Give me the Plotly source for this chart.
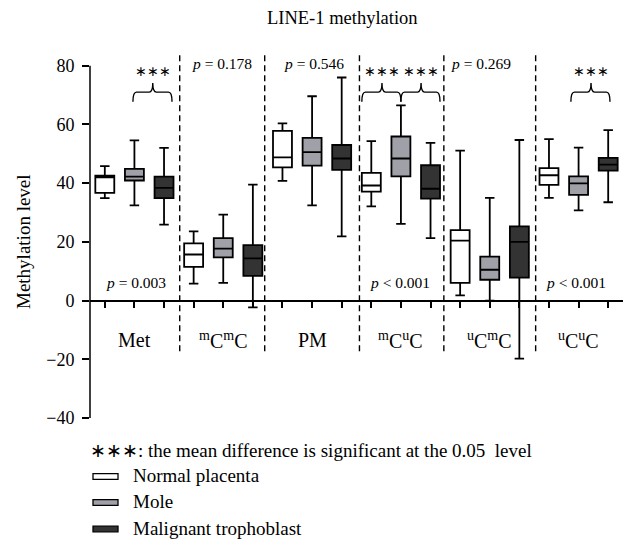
import plotly.graph_objects as go

# ---------------- data ----------------
categories = ["Met", "<sup>m</sup>C<sup>m</sup>C", "PM",
              "<sup>m</sup>C<sup>u</sup>C", "<sup>u</sup>C<sup>m</sup>C",
              "<sup>u</sup>C<sup>u</sup>C"]
groups = ["Normal placenta", "Mole", "Malignant trophoblast"]

normal_low = [34.9, 5.8, 40.8, 32.1, 1.8, 35.0]
normal_q1 = [36.7, 11.5, 45.4, 37.1, 6.0, 39.4]
normal_med = [42.0, 15.7, 48.8, 39.2, 20.4, 42.7]
normal_q3 = [42.6, 19.5, 57.8, 43.5, 24.0, 45.1]
normal_high = [45.8, 23.6, 60.4, 54.3, 51.1, 55.0]

mole_low = [32.4, 6.0, 32.4, 26.1, 0.0, 30.7]
mole_q1 = [40.9, 14.7, 46.0, 42.3, 7.1, 36.0]
mole_med = [42.2, 17.7, 50.6, 48.4, 10.5, 39.9]
mole_q3 = [44.9, 21.3, 55.4, 55.9, 15.0, 42.3]
mole_high = [54.6, 29.3, 69.6, 66.5, 35.0, 52.1]

mal_low = [25.9, -2.3, 21.9, 21.3, -19.8, 33.5]
mal_q1 = [34.9, 8.4, 44.5, 34.7, 7.8, 44.3]
mal_med = [38.4, 14.4, 48.4, 38.1, 20.0, 46.3]
mal_q3 = [42.2, 18.9, 53.0, 46.1, 25.3, 48.6]
mal_high = [52.0, 39.5, 76.0, 53.7, 54.7, 58.1]

p_top = ["", "<i>p</i> = 0.178", "<i>p</i> = 0.546", "", "<i>p</i> = 0.269", ""]
p_bottom = ["<i>p</i> = 0.003", "", "", "<i>p</i> &lt; 0.001", "", "<i>p</i> &lt; 0.001"]
p_top_x = [None, 3.95, 7.06, None, 12.7, None]
p_bottom_x = [1.05, None, None, 9.97, None, 15.9]

# significance braces: (start, end, tip) in box-slot units
braces = [(0.95, 2.27, 1.62), (8.68, 10.0, 9.36), (10.0, 11.32, 10.68), (15.74, 17.06, 16.42)]
dividers = [2.53, 5.4, 8.6, 11.45, 14.55]

yticks = [-40, -20, 0, 20, 40, 60, 80]

# ---------------- style ----------------
FONT = "Liberation Serif"
fills = ["#ffffff", "#a0a0a8", "#333333"]
W, H = 627, 542
ML, MR, MT, MB = 90, 4, 54, 124
YMIN, YMAX = -40, 84


def pxx(px):
    return (px - ML) / (W - ML - MR)


def pxy(py):
    return (H - MB - py) / (H - MT - MB)


stats = [
    (normal_low, normal_q1, normal_med, normal_q3, normal_high),
    (mole_low, mole_q1, mole_med, mole_q3, mole_high),
    (mal_low, mal_q1, mal_med, mal_q3, mal_high),
]

fig = go.Figure()
ncat = len(categories)
for g, (lo, q1, md, q3, hi) in enumerate(stats):
    xs = [3 * c + g for c in range(ncat)]
    fig.add_trace(go.Box(
        x=xs, q1=q1, median=md, q3=q3, lowerfence=lo, upperfence=hi,
        name=groups[g], fillcolor=fills[g],
        line=dict(color="black", width=1.8),
        width=0.64, whiskerwidth=0.5, boxpoints=False,
        showlegend=False, hoverinfo="skip",
    ))

shapes = []
# y axis line (only from -40 to 80)
shapes.append(dict(type="line", xref="paper", yref="y", x0=0, x1=0, y0=-40, y1=80,
                   line=dict(color="black", width=1.5)))
# dashed dividers
for d in dividers:
    shapes.append(dict(type="line", xref="x", yref="y", x0=d, x1=d, y0=-17.3, y1=83.6,
                       line=dict(color="black", width=1.4, dash="6px,4px")))


def ann(x, y, text, size, xref="x", yref="y", xanchor="center", **kw):
    return dict(x=x, y=y, xref=xref, yref=yref, text=text, showarrow=False,
                xanchor=xanchor, yanchor="middle",
                font=dict(family=FONT, size=size, color="black"), **kw)


# braces
yH, yE, yT = 71.0, 67.7, 74.1
annotations = []
for (a, b, t) in braces:
    dx = 0.12
    path = (f"M {a},{yE} Q {a},{yH} {a+dx},{yH} L {t-dx},{yH} Q {t},{yH} {t},{yT} "
            f"Q {t},{yH} {t+dx},{yH} L {b-dx},{yH} Q {b},{yH} {b},{yE}")
    shapes.append(dict(type="path", xref="x", yref="y", path=path,
                       line=dict(color="black", width=1.4)))
    annotations.append(ann(t, 77.9, "∗∗∗", 14))

# p-values
for c in range(ncat):
    if p_top[c]:
        annotations.append(ann(p_top_x[c], 80.8, p_top[c], 15.5))
    if p_bottom[c]:
        annotations.append(ann(p_bottom_x[c], 6.0, p_bottom[c], 15.5))

# category labels
for c in range(ncat):
    annotations.append(ann(3 * c + 1, -13.4, categories[c], 20))

# title and y title
annotations.append(ann(pxx(342), pxy(18), "LINE-1 methylation", 18.5, xref="paper", yref="paper"))
annotations.append(ann(pxx(24), pxy(242), "Methylation level", 19, xref="paper", yref="paper",
                       textangle=-90))

# legend
annotations.append(ann(pxx(88), pxy(451),
                       "∗∗∗: the mean difference is significant at the 0.05&nbsp; level",
                       19, xref="paper", yref="paper", xanchor="left"))
leg_y = [476.5, 502.5, 529.0]
for g in range(3):
    shapes.append(dict(type="rect", xref="paper", yref="paper",
                       x0=pxx(93), x1=pxx(118), y0=pxy(leg_y[g] + 2.8), y1=pxy(leg_y[g] - 2.8),
                       fillcolor=fills[g], line=dict(color="black", width=1.3)))
    annotations.append(ann(pxx(131), pxy(leg_y[g] - 1), groups[g], 19,
                           xref="paper", yref="paper", xanchor="left"))

fig.update_layout(
    width=W, height=H,
    margin=dict(l=ML, r=MR, t=MT, b=MB, pad=0),
    paper_bgcolor="white", plot_bgcolor="white",
    boxmode="overlay",
    showlegend=False,
    shapes=shapes,
    annotations=annotations,
    font=dict(family=FONT, color="black"),
    xaxis=dict(range=[-0.5, 17.5], anchor="free", position=(0 - YMIN) / (YMAX - YMIN),
               showline=True, linecolor="black", linewidth=1.5,
               ticks="outside", ticklen=7, tickwidth=1.5, tickcolor="black",
               tickvals=list(range(18)), showticklabels=False,
               showgrid=False, zeroline=False),
    yaxis=dict(range=[YMIN, YMAX], tickvals=yticks, ticks="outside", ticklen=7,
               tickwidth=1.5, tickcolor="black", showline=False, showgrid=False,
               zeroline=False, tickfont=dict(family=FONT, size=18, color="black"),
               ticklabelstandoff=4),
)

fig.write_html("out.html")
